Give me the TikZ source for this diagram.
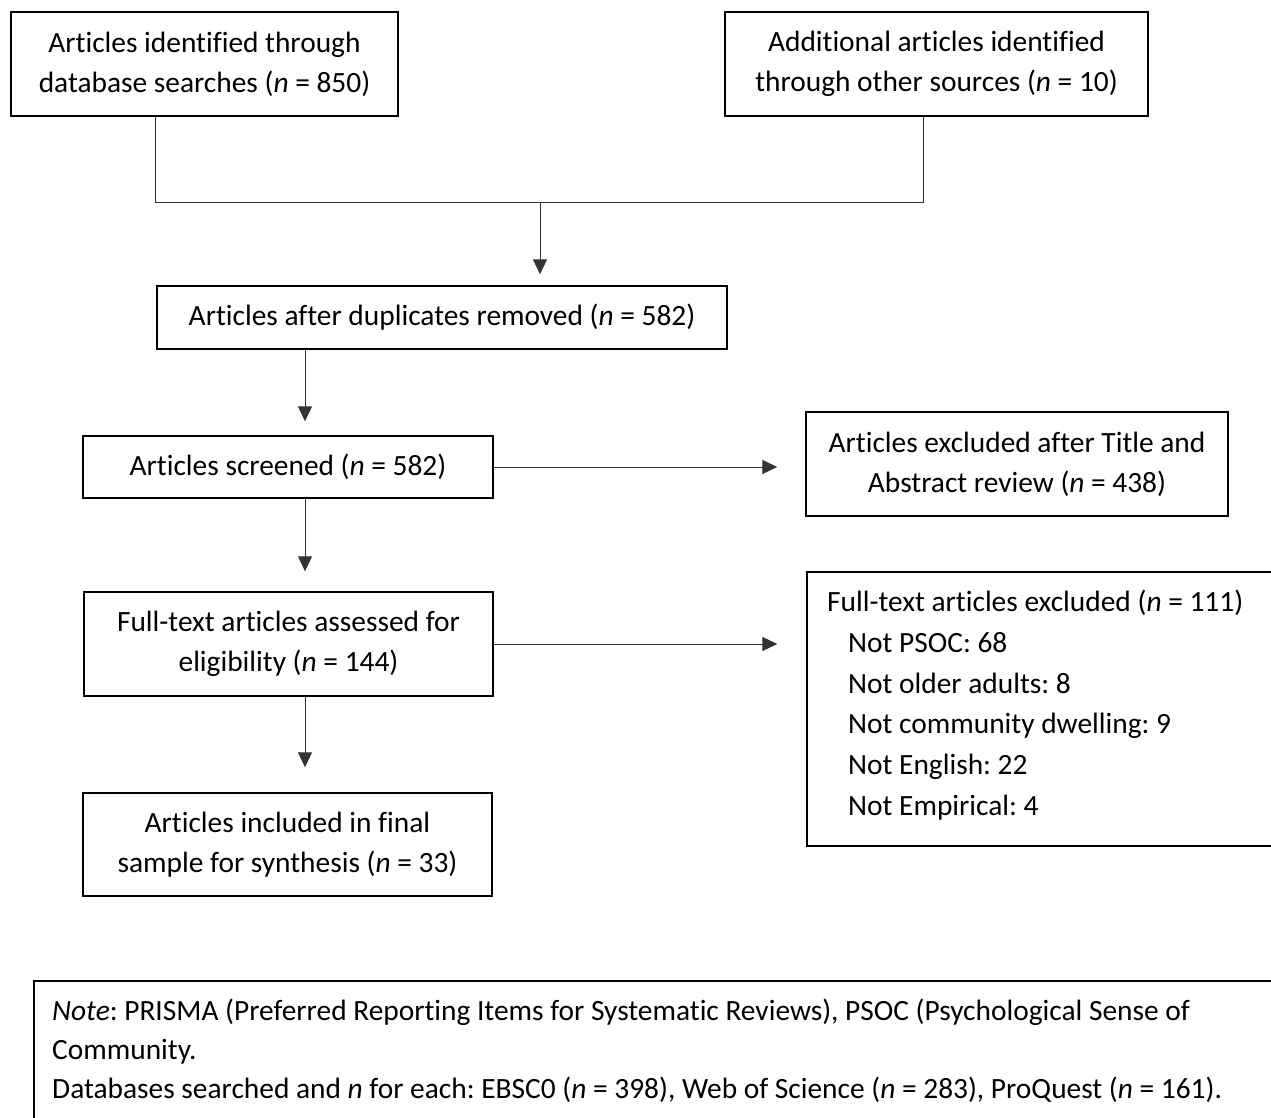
\documentclass[tikz,border=0pt]{standalone}
\usepackage{fontspec}
\setmainfont{Carlito}[RawFeature={-liga}]
\frenchspacing
\usetikzlibrary{arrows.meta}
\tikzset{
  box/.style={draw=black, line width=1.4pt, align=center, inner sep=0pt,
    font=\fontsize{29.4}{40}\selectfont},
  txt/.style={anchor=base west, inner sep=0pt, font=\fontsize{29.4}{40}\selectfont},
  conn/.style={draw=black!80, line width=1pt},
  arr/.style={conn, -{Triangle[length=15pt,width=14pt]}}
}
\begin{document}
\begin{tikzpicture}[x=1pt,y=-1pt]
\useasboundingbox (0,0) rectangle (1271,1118);
\clip (0,0) rectangle (1271,1118);
% boxes
\node[box, minimum width=387pt, minimum height=104pt] (A) at (204.5,64)
  {Articles identified through\\database searches (\textit{n} = 850)};
\node[box, minimum width=423pt, minimum height=104pt] (B) at (936.5,64)
  {Additional articles identified\\through other sources (\textit{n} = 10)};
\node[box, minimum width=570pt, minimum height=63pt] (C) at (442,317.5)
  {Articles after duplicates removed (\textit{n} = 582)};
\node[box, minimum width=410pt, minimum height=62pt] (D) at (288,467)
  {Articles screened (\textit{n} = 582)};
\node[box, minimum width=409pt, minimum height=104pt] (F) at (288.5,644)
  {Full-text articles assessed for\\eligibility (\textit{n} = 144)};
\node[box, minimum width=409pt, minimum height=103pt] (H) at (287.5,844.5)
  {Articles included in final\\sample for synthesis (\textit{n} = 33)};
\node[box, minimum width=422pt, minimum height=104pt] (E) at (1017,464)
  {Articles excluded after Title and\\Abstract review (\textit{n} = 438)};
\node[box, minimum width=493pt, minimum height=274pt] (G) at (1053.5,709) {};
\node[box, minimum width=1266pt, minimum height=160pt] (N) at (667,1061) {};
% text of G
\node[txt] (g0) at (827,611) {Full-text articles excluded (\textit{n} = 111)};
\node[txt] (g1) at (848,652) {Not PSOC: 68};
\node[txt] (g2) at (848,693) {Not older adults: 8};
\node[txt] (g3) at (848,733) {Not community dwelling: 9};
\node[txt] (g4) at (848,774) {Not English: 22};
\node[txt] (g5) at (848,815) {Not Empirical: 4};
% note text
\node[txt] (n0) at (52,1020) {\textit{Note}: PRISMA (Preferred Reporting Items for Systematic Reviews), PSOC (Psychological Sense of};
\node[txt] (n1) at (52,1059) {Community.};
\node[txt] (n2) at (52,1098) {Databases searched and \textit{n} for each: EBSC0 (\textit{n} = 398), Web of Science (\textit{n} = 283), ProQuest (\textit{n} = 161).};
% connectors
\coordinate (j1) at (155.5,203);
\coordinate (j2) at (923,203);
\coordinate (jm) at (540,203);
\coordinate (v) at (305,0);
\draw[conn] (A.south -| j1) -- (j1) -- (j2) -- (B.south -| j2);
\draw[arr, shorten >=11pt] (jm) -- (C.north -| jm);
\draw[arr, shorten >=14pt] (C.south -| v) -- (D.north -| v);
\draw[arr, shorten >=20pt] (D.south -| v) -- (F.north -| v);
\draw[arr, shorten >=25pt] (F.south -| v) -- (H.north -| v);
\draw[arr, shorten >=28pt] (D.east) -- (D.east -| E.west);
\draw[arr, shorten >=29pt] (F.east) -- (F.east -| G.west);
\end{tikzpicture}
\end{document}
